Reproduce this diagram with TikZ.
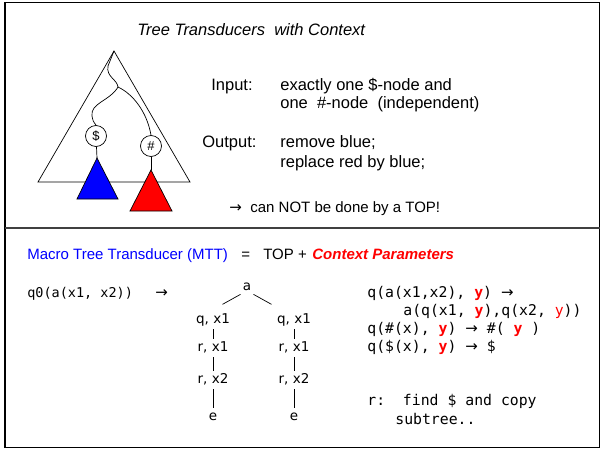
\documentclass[tikz,border=0pt]{standalone}
\usepackage{fontspec}
\setmainfont{Liberation Sans}
\newfontfamily\codefont{DejaVu Sans Mono}
\newfontfamily\treefont{DejaVu Sans}

\tikzset{
    txt/.style={anchor=mid west, inner sep=0pt, font=\fontsize{16.5}{20}\selectfont},
    smalltxt/.style={anchor=mid west, inner sep=0pt, font=\fontsize{15}{18}\selectfont},
    code/.style={anchor=mid west, inner sep=0pt, font=\codefont\fontsize{14.8}{17}\selectfont},
    treelbl/.style={inner xsep=2pt, inner ysep=1pt, text height=9pt, text depth=3pt, font=\treefont\fontsize{13.5}{16}\selectfont},
    marker/.style={circle, draw, inner sep=0pt, minimum size=21pt, font=\fontsize{13}{15}\selectfont},
}
\newcommand{\ctxy}{\textbf{\color{red}y}}
\newcommand{\mttarrow}{{\treefont\fontsize{15}{17}\selectfont →}}

\begin{document}
\begin{tikzpicture}[x=1pt, y=-1pt, line width=0.7pt]
    \useasboundingbox (0,0) rectangle (604,450);
    % frame
    \draw[line width=1.6pt] (5,2.5) rectangle (599.5,447.5);
    \draw[line width=1.3pt, black!75] (5,228) -- (599.5,228);

    % top part: input tree
    \node[txt, font=\itshape\fontsize{16.5}{20}\selectfont] (title) at (137,33) {Tree Transducers\ \ with Context};
    \coordinate (apex) at (114,51);
    \coordinate (split) at (118,87);
    \draw (apex) -- (38,182) -- (190,182) -- cycle;
    \node[marker] (dollar) at (96,136) {\$};
    \node[marker] (hash) at (151,146) {\#};
    \draw (apex) -- (108,66) .. controls (106,77) and (117,79) .. (split);
    \draw (split) .. controls (110,101) and (90,103) .. (92,116) .. controls (93,121) .. (dollar.north);
    \draw (split) .. controls (133,94) and (147,112) .. (hash.north);
    \coordinate (bluetop) at (97,158);
    \coordinate (redtop) at (151,170);
    \filldraw[fill=blue] (bluetop) -- (77,199) -- (118,199) -- cycle;
    \filldraw[fill=red] (redtop) -- (130,211) -- (172,211) -- cycle;
    \draw (dollar) -- (bluetop);
    \draw (hash) -- (redtop);

    % top part: text
    \node[txt] (input) at (211,88) {Input:};
    \node[txt] (input-1) at (280,88) {exactly one \$-node and};
    \node[txt] (input-2) at (280,106) {one\ \ \#-node\ \ (independent)};
    \node[txt] (output) at (202,145) {Output:};
    \node[txt] (output-1) at (280,145) {remove blue;};
    \node[txt] (output-2) at (280,165) {replace red by blue;};
    \node[smalltxt] (note-arrow) at (229,210) {\mttarrow};
    \node[smalltxt] (note) at (250,210) {can NOT be done by a TOP!};

    % bottom part: MTT
    \node[smalltxt, text=blue] (mtt) at (27,257) {Macro Tree Transducer (MTT)};
    \node[smalltxt] (eq) at (241,257) {=};
    \node[smalltxt] (top) at (263,257) {TOP +};
    \node[smalltxt, text=red, font=\bfseries\itshape\fontsize{15}{18}\selectfont] (ctx) at (312,257) {Context Parameters};

    \node[code, font=\codefont\fontsize{13.5}{17}\selectfont] (rule) at (27,295) {q0(a(x1, x2))};
    \node[code] (rule-arrow) at (155,295) {\mttarrow};

    % output tree
    \node[treelbl] (a) at (247,287) {a};
    \draw (a.south west) -- ++(-18,10);
    \draw (a.south east) -- ++(18,10);
    \foreach \lbl/\ypos [count=\i] in {{q, x1}/320, {r, x1}/348, {r, x2}/380, e/417} {
            \node[treelbl] (L-\i) at (213,\ypos) {\lbl};
            \node[treelbl] (R-\i) at (294,\ypos) {\lbl};
        }
    \foreach \i [evaluate=\i as \j using int(\i+1)] in {1, 2, 3} {
            \draw[shorten <=2pt, shorten >=2pt] (L-\i) -- (L-\j);
            \draw[shorten <=2pt, shorten >=2pt] (R-\i) -- (R-\j);
        }

    % rules
    \node[code] (rule-1) at (367,295) {q(a(x1,x2), \ctxy) \mttarrow};
    \node[code] (rule-2) at (403,313) {a(q(x1, \ctxy),q(x2, {\color{red}y}))};
    \node[code] (rule-3) at (367,331) {q(\#(x), \ctxy) \mttarrow{} \#( \ctxy\ )};
    \node[code] (rule-4) at (367,349) {q(\$(x), \ctxy) \mttarrow{} \$};
    \node[code] (rule-5) at (367,403) {r:\ \ find \$ and copy};
    \node[code] (rule-6) at (395,422) {subtree..};
\end{tikzpicture}
\end{document}
